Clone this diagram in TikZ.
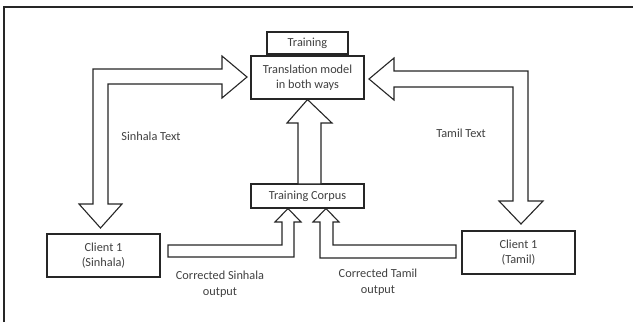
\documentclass[tikz,border=0pt]{standalone}
\usepackage{fontspec}
\setmainfont{Carlito}
\definecolor{txt}{HTML}{404040}
\definecolor{ln}{HTML}{262626}
\begin{document}
\begin{tikzpicture}[x=1pt,y=-1pt,
  box/.style={draw=ln,line width=1.1pt,fill=white,inner sep=0pt,text=txt,font=\fontsize{12.3}{15.5}\selectfont,align=center},
  lbl/.style={text=txt,font=\fontsize{12.3}{16}\selectfont,align=center,inner sep=0pt},
  blk/.style={draw=ln,line width=1.1pt,fill=white,line join=miter}]
\useasboundingbox (0,0) rectangle (633,322);
\draw[ln,line width=1.6pt] (4,322) -- (4,7) -- (633,7);
% boxes
\node[box,minimum width=81pt,minimum height=22pt] (train) at (307.5,43) {Training};
\node[box,minimum width=113pt,minimum height=43pt] (model) at (307.5,77.5) {Translation model\\in both ways};
\node[box,minimum width=113pt,minimum height=24pt] (corpus) at (307.5,196) {Training Corpus};
\node[box,minimum width=113pt,minimum height=43pt] (cs) at (103.5,255.5) {Client 1\\(Sinhala)};
\node[box,minimum width=113pt,minimum height=43pt] (ct) at (518.5,252.5) {Client 1\\(Tamil)};
% block arrows
\draw[blk] (247,77) -- (222,56) -- (222,69) -- (93,69) -- (93,204) -- (79,204) -- (100.5,228) -- (122,204) -- (108,204) -- (108,84) -- (222,84) -- (222,98) -- cycle;
\draw[blk] (369,79) -- (394,58) -- (394,71) -- (528,71) -- (528,201) -- (543,201) -- (521,224) -- (499,201) -- (513,201) -- (513,87) -- (394,87) -- (394,100) -- cycle;
\draw[blk] (model.south) -- (332,123) -- (321,123) -- (321,184) -- (298,184) -- (298,123) -- (287,123) -- cycle;
\draw[blk] (168,245) -- (282,245) -- (282,222) -- (275,222) -- (288,208.5) -- (301,222) -- (294,222) -- (294,257) -- (168,257) -- cycle;
\draw[blk] (456,245) -- (333,245) -- (333,222) -- (339,222) -- (326,208.5) -- (313,222) -- (320,222) -- (320,258) -- (456,258) -- cycle;
% labels
\node[lbl] (ls) at (151,136) {Sinhala Text};
\node[lbl] (lt) at (461,133) {Tamil Text};
\node[lbl] (lcs) at (220,284) {Corrected Sinhala\\output};
\node[lbl] (lct) at (378,282) {Corrected Tamil\\output};
\end{tikzpicture}
\end{document}
